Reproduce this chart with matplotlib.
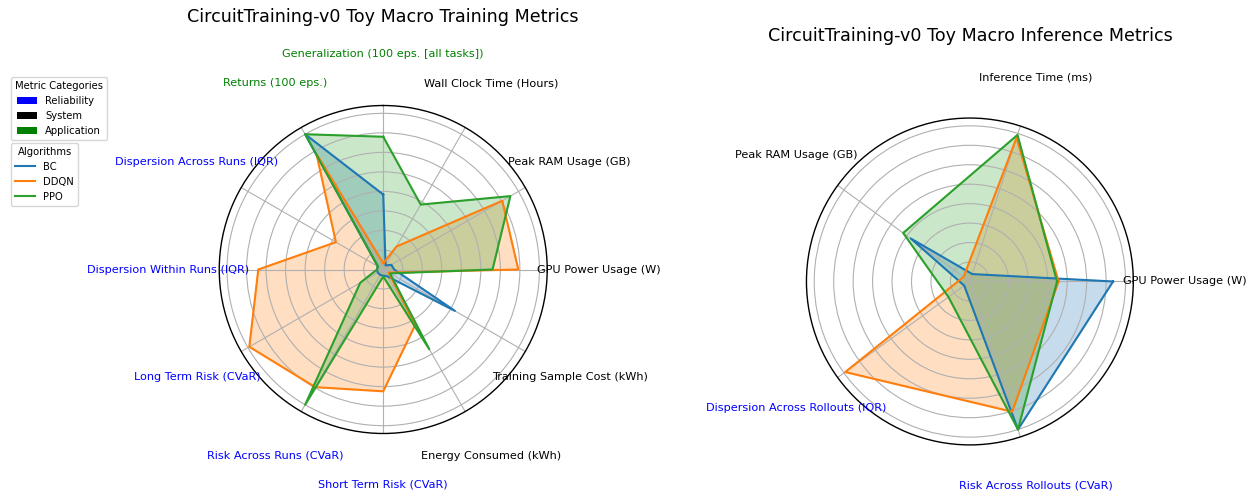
import numpy as np
import matplotlib
matplotlib.use("Agg")
import matplotlib.pyplot as plt
from matplotlib.patches import Patch
from matplotlib.lines import Line2D

# ---------------- data ----------------
algorithms = ["BC", "DDQN", "PPO"]
algo_colors = ["#1f77b4", "#ff7f0e", "#2ca02c"]

type_colors = {"Reliability": "blue", "System": "black", "Application": "green"}

# Training metrics (counter-clockwise, starting at the top)
train_categories = [
    "Generalization (100 eps. [all tasks])",
    "Returns (100 eps.)",
    "Dispersion Across Runs (IQR)",
    "Dispersion Within Runs (IQR)",
    "Long Term Risk (CVaR)",
    "Risk Across Runs (CVaR)",
    "Short Term Risk (CVaR)",
    "Energy Consumed (kWh)",
    "Training Sample Cost (kWh)",
    "GPU Power Usage (W)",
    "Peak RAM Usage (GB)",
    "Wall Clock Time (Hours)",
]
train_types = ["Application", "Application",
               "Reliability", "Reliability", "Reliability", "Reliability", "Reliability",
               "System", "System", "System", "System", "System"]
train_bc = [0.48, 1.00, 0.04, 0.04, 0.04, 0.04, 0.04, 0.05, 0.53, 0.07, 0.06, 0.03]
train_ddqn = [0.04, 0.855, 0.35, 0.80, 0.99, 0.87, 0.78, 0.41, 0.04, 0.865, 0.88, 0.17]
train_ppo = [0.85, 1.00, 0.04, 0.04, 0.17, 1.00, 0.045, 0.59, 0.05, 0.70, 0.94, 0.48]

# Inference metrics (counter-clockwise, starting at the right)
inf_categories = [
    "GPU Power Usage (W)",
    "Inference Time (ms)",
    "Peak RAM Usage (GB)",
    "Dispersion Across Rollouts (IQR)",
    "Risk Across Rollouts (CVaR)",
]
inf_types = ["System", "System", "System", "Reliability", "Reliability"]
inf_bc = [0.92, 0.05, 0.47, 0.045, 1.00]
inf_ddqn = [0.57, 0.97, 0.05, 0.99, 0.88]
inf_ppo = [0.56, 0.99, 0.53, 0.17, 1.00]

ring_values = [0.125, 0.25, 0.375, 0.5, 0.625, 0.75, 0.875, 1.0]

# ---------------- plotting ----------------
fig = plt.figure(figsize=(12.6, 4.96), dpi=100)


def radar(ax, categories, types, series, title, offset, title_y):
    n = len(categories)
    angles = np.linspace(0, 2 * np.pi, n, endpoint=False)
    ax.set_theta_offset(offset)
    closed = np.concatenate([angles, angles[:1]])
    for vals, name, col in zip(series, algorithms, algo_colors):
        v = np.concatenate([vals, vals[:1]])
        ax.plot(closed, v, color=col, linewidth=1.5, label=name)
        ax.fill(closed, v, color=col, alpha=0.25)
    ax.set_ylim(0, 1.05)
    ax.set_yticks(ring_values)
    ax.set_yticklabels([])
    ax.set_xticks(angles)
    ax.set_xticklabels([])
    ax.grid(True, color="#b0b0b0", linewidth=0.8)
    ax.spines["polar"].set_linewidth(1.0)
    for ang, lab, t in zip(angles, categories, types):
        ax.text(ang, 1.378, lab, ha="center", va="center", fontsize=8.1,
                color=type_colors[t], clip_on=False)
    ax.set_title(title, fontsize=12.6, y=title_y, va="center")


ax1 = fig.add_axes([0.174, 0.126, 0.2603, 0.6613], projection="polar")
radar(ax1, train_categories, train_types, [train_bc, train_ddqn, train_ppo],
      "CircuitTraining-v0 Toy Macro Training Metrics", np.pi / 2, 1.244)

ax2 = fig.add_axes([0.640, 0.103, 0.2595, 0.659], projection="polar")
radar(ax2, inf_categories, inf_types, [inf_bc, inf_ddqn, inf_ppo],
      "CircuitTraining-v0 Toy Macro Inference Metrics", 0.0, 1.226)

cat_handles = [Patch(facecolor=type_colors[k], label=k)
               for k in ["Reliability", "System", "Application"]]
leg1 = fig.legend(handles=cat_handles, title="Metric Categories", loc="upper left",
                  bbox_to_anchor=(0.005, 0.854), fontsize=7.2, title_fontsize=7.2)
algo_handles = [Line2D([0], [0], color=c, linewidth=1.5, label=a)
                for a, c in zip(algorithms, algo_colors)]
leg2 = fig.legend(handles=algo_handles, title="Algorithms", loc="upper left",
                  bbox_to_anchor=(0.005, 0.722), fontsize=7.2, title_fontsize=7.2)

fig.savefig("out.png", dpi=100)
